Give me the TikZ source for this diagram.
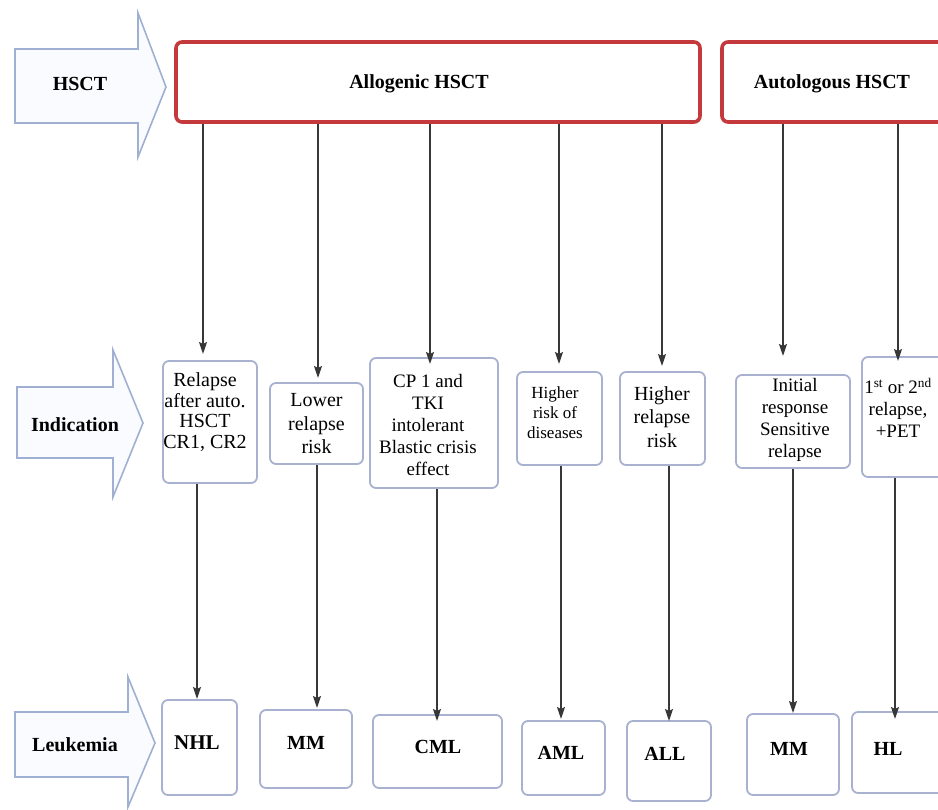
\documentclass[tikz,border=0pt]{standalone}
\usepackage{fontspec}
\setmainfont{Liberation Serif}
\usetikzlibrary{arrows.meta}
\definecolor{arrowc}{RGB}{160,176,210}
\definecolor{arrowf}{RGB}{250,251,254}
\definecolor{boxc}{RGB}{168,178,208}
\definecolor{redc}{RGB}{196,58,60}
\definecolor{linec}{RGB}{55,55,55}
\tikzset{
  blk/.style={draw=arrowc, fill=arrowf, line width=1.6pt, line join=miter},
  redbox/.style={draw=redc, line width=3.6pt, rounded corners=6pt, fill=white, inner sep=0pt},
  ibox/.style={draw=boxc, line width=1.8pt, rounded corners=6pt, fill=white, inner sep=0pt},
  conn/.style={draw=linec, line width=1.7pt, -{Stealth[length=12pt,width=8pt,inset=2pt]}},
  txt/.style={inner sep=0pt, align=center},
  bt/.style={txt, font=\bfseries\fontsize{20}{22}\selectfont},
}
\begin{document}
\begin{tikzpicture}[x=1pt,y=-1pt]
\useasboundingbox (0,0) rectangle (938,810);
\clip (0,0) rectangle (938,810);
% block arrows
\draw[blk] (15,49) -- (138,49) -- (138,13) -- (166,87) -- (138,157) -- (138,123) -- (15,123) -- cycle;
\draw[blk] (17,387) -- (113,387) -- (113,350) -- (143,423) -- (113,497) -- (113,458) -- (17,458) -- cycle;
\draw[blk] (15,712) -- (128,712) -- (128,677) -- (155,743) -- (128,807) -- (128,777) -- (15,777) -- cycle;
\node[bt] (lhsct) at (80,84) {HSCT};
\node[bt] (lind) at (75,425) {Indication};
\node[bt] (lleu) at (75,745) {Leukemia};
% top boxes
\node[redbox, minimum width=524pt, minimum height=80pt] (allo) at (438,82) {};
\node[bt] (allot) at (419,84) {Allogenic HSCT};
\node[redbox, minimum width=228pt, minimum height=80pt] (auto) at (836,82) {};
\node[bt] (autot) at (832,84) {Autologous HSCT};
% middle boxes
\node[ibox, minimum width=94pt, minimum height=122pt] (m1) at (210,422) {};
\node[ibox, minimum width=93pt, minimum height=81pt] (m2) at (316.5,423.5) {};
\node[ibox, minimum width=128pt, minimum height=130pt] (m3) at (434,423) {};
\node[ibox, minimum width=85pt, minimum height=93pt] (m4) at (559.5,418.5) {};
\node[ibox, minimum width=85pt, minimum height=93pt] (m5) at (662.5,418.5) {};
\node[ibox, minimum width=114pt, minimum height=93pt] (m6) at (793,421.5) {};
\node[ibox, minimum width=90pt, minimum height=120pt] (m7) at (907,417) {};
\node[txt, font=\fontsize{20}{20.5}\selectfont] (m1t) at (205,412) {Relapse\\after auto.\\HSCT\\CR1, CR2};
\node[txt, font=\fontsize{20}{23.5}\selectfont] (m2t) at (316.5,424) {Lower\\relapse\\risk};
\node[txt, font=\fontsize{19}{22}\selectfont] (m3t) at (428,425) {CP 1 and\\TKI\\intolerant\\Blastic crisis\\effect};
\node[txt, font=\fontsize{17}{20}\selectfont] (m4t) at (555,413) {Higher\\risk of\\diseases};
\node[txt, font=\fontsize{20}{23.5}\selectfont] (m5t) at (662,417) {Higher\\relapse\\risk};
\node[txt, font=\fontsize{19}{22}\selectfont] (m6t) at (795,420) {Initial\\response\\Sensitive\\relapse};
\node[txt, font=\fontsize{19}{22}\selectfont] (m7t) at (898,408) {1\textsuperscript{st} or 2\textsuperscript{nd}\\relapse,\\+PET};
% bottom boxes
\node[ibox, minimum width=75pt, minimum height=95pt] (b1) at (199.5,747.5) {};
\node[ibox, minimum width=92pt, minimum height=78pt] (b2) at (306,749) {};
\node[ibox, minimum width=129pt, minimum height=73pt] (b3) at (437.5,751.5) {};
\node[ibox, minimum width=83pt, minimum height=74pt] (b4) at (563.5,758) {};
\node[ibox, minimum width=84pt, minimum height=80pt] (b5) at (669,761) {};
\node[ibox, minimum width=92pt, minimum height=81pt] (b6) at (793,754.5) {};
\node[ibox, minimum width=100pt, minimum height=81pt] (b7) at (902,752.5) {};
\node[bt, font=\bfseries\fontsize{21}{22}\selectfont] (b1t) at (197,743) {NHL};
\node[bt] (b2t) at (306,743) {MM};
\node[bt] (b3t) at (438,747) {CML};
\node[bt] (b4t) at (561,753) {AML};
\node[bt] (b5t) at (665,754) {ALL};
\node[bt] (b6t) at (789,749) {MM};
\node[bt] (b7t) at (888,749) {HL};
% tip coordinates (upper connectors)
\coordinate (t1) at (203,354);
\coordinate (t2) at (318,378);
\coordinate (t3) at (430,364);
\coordinate (t4) at (559,364);
\coordinate (t5) at (662,366);
\coordinate (t6) at (783,356);
\coordinate (t7) at (898,361);
\draw[conn] (allo.south -| t1) -- (t1);
\draw[conn] (allo.south -| t2) -- (t2);
\draw[conn] (allo.south -| t3) -- (t3);
\draw[conn] (allo.south -| t4) -- (t4);
\draw[conn] (allo.south -| t5) -- (t5);
\draw[conn] (auto.south -| t6) -- (t6);
\draw[conn] (auto.south -| t7) -- (t7);
% tip coordinates (lower connectors)
\coordinate (u1) at (197,699);
\coordinate (u2) at (317,708);
\coordinate (u3) at (437,721);
\coordinate (u4) at (561,719);
\coordinate (u5) at (669,721);
\coordinate (u6) at (793,713);
\coordinate (u7) at (895,719);
\draw[conn] (m1.south -| u1) -- (u1);
\draw[conn] (m2.south -| u2) -- (u2);
\draw[conn] (m3.south -| u3) -- (u3);
\draw[conn] (m4.south -| u4) -- (u4);
\draw[conn] (m5.south -| u5) -- (u5);
\draw[conn] (m6.south -| u6) -- (u6);
\draw[conn] (m7.south -| u7) -- (u7);
\end{tikzpicture}
\end{document}
